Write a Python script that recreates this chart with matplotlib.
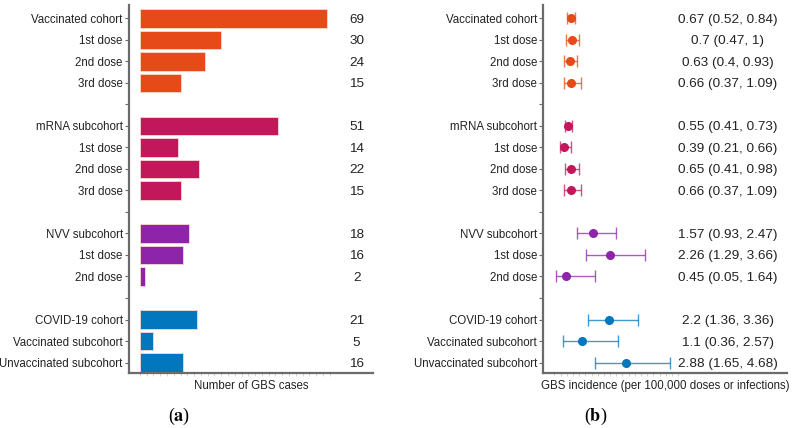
import matplotlib
matplotlib.use("Agg")
import matplotlib.pyplot as plt
from matplotlib.colors import to_rgba
import numpy as np

plt.rcParams['font.family'] = ['Liberation Sans', 'DejaVu Sans']
plt.rcParams['mathtext.fontset'] = 'stix'

# ---- data ----
group_names = ["Vaccinated", "mRNA", "NVV", "COVID"]
group_labels = [
    ["Vaccinated cohort", "1st dose", "2nd dose", "3rd dose"],
    ["mRNA subcohort", "1st dose", "2nd dose", "3rd dose"],
    ["NVV subcohort", "1st dose", "2nd dose"],
    ["COVID-19 cohort", "Vaccinated subcohort", "Unvaccinated subcohort"],
]
cases = [
    [69, 30, 24, 15],
    [51, 14, 22, 15],
    [18, 16, 2],
    [21, 5, 16],
]
incidence = [
    [0.67, 0.7, 0.63, 0.66],
    [0.55, 0.39, 0.65, 0.66],
    [1.57, 2.26, 0.45],
    [2.2, 1.1, 2.88],
]
ci_low = [
    [0.52, 0.47, 0.4, 0.37],
    [0.41, 0.21, 0.41, 0.37],
    [0.93, 1.29, 0.05],
    [1.36, 0.36, 1.65],
]
ci_high = [
    [0.84, 1, 0.93, 1.09],
    [0.73, 0.66, 0.98, 1.09],
    [2.47, 3.66, 1.64],
    [3.36, 2.57, 4.68],
]
ci_text = [
    ["0.67 (0.52, 0.84)", "0.7 (0.47, 1)", "0.63 (0.4, 0.93)", "0.66 (0.37, 1.09)"],
    ["0.55 (0.41, 0.73)", "0.39 (0.21, 0.66)", "0.65 (0.41, 0.98)", "0.66 (0.37, 1.09)"],
    ["1.57 (0.93, 2.47)", "2.26 (1.29, 3.66)", "0.45 (0.05, 1.64)"],
    ["2.2 (1.36, 3.36)", "1.1 (0.36, 2.57)", "2.88 (1.65, 4.68)"],
]
colors = ["#E64A19", "#C2185B", "#8E24AA", "#0277BD"]

# ---- positions ----
positions = []
tick_pos = []
tick_lab = []
p = 0
for gi, labs in enumerate(group_labels):
    pos = []
    for lab in labs:
        pos.append(p)
        tick_pos.append(p)
        tick_lab.append(lab)
        p += 1
    positions.append(pos)
    if gi < len(group_labels) - 1:
        tick_pos.append(p)
        tick_lab.append("")
        p += 1
nslots = p

W, H = 795, 428
fig = plt.figure(figsize=(W / 100, H / 100), dpi=100)

def px_axes(x0, y0, x1, y1):
    return fig.add_axes([x0 / W, 1 - y1 / H, (x1 - x0) / W, (y1 - y0) / H])

spine_col = "#6b6b6b"
text_col = "#222222"

def style(ax):
    for s in ["top", "right"]:
        ax.spines[s].set_visible(False)
    for s in ["left", "bottom"]:
        ax.spines[s].set_color(spine_col)
        ax.spines[s].set_linewidth(1.6)
    ax.set_yticks(tick_pos)
    ax.set_yticklabels(tick_lab, fontsize=8.3, color=text_col)
    ax.tick_params(axis="y", length=3, width=0.8, color=spine_col, pad=1.5)
    ax.set_ylim(nslots - 0.5, -0.62)

# ---- panel (a) ----
axa = px_axes(129, 5, 373, 373.3)
style(axa)
for gi in range(len(group_labels)):
    axa.barh(positions[gi], cases[gi], height=0.86, left=0, color=colors[gi],
             edgecolor="#f7d9cf", linewidth=0.6)
    for y, v in zip(positions[gi], cases[gi]):
        axa.text(80, y, str(v), ha="center", va="center_baseline",
                 fontsize=9.7, color=text_col)
axa.set_xlim(-4, 86)
axa.set_xticks(np.arange(0, 71, 2.5))
axa.set_xticklabels([])
axa.tick_params(axis="x", length=2.5, width=0.5, color="#c4c4c4")
axa.set_xlabel("Number of GBS cases", fontsize=8.3, color=text_col, labelpad=-1.5)

# ---- panel (b) ----
axb = px_axes(543.3, 5, 786.7, 373.3)
style(axb)
for gi in range(len(group_labels)):
    inc = np.array(incidence[gi])
    lo = inc - np.array(ci_low[gi])
    hi = np.array(ci_high[gi]) - inc
    axb.errorbar(inc, positions[gi], xerr=[lo, hi], fmt="o", color=colors[gi],
                 ecolor=to_rgba(colors[gi], 0.75), elinewidth=1.0, capsize=4,
                 capthick=1.0, markersize=5.5)
    for y, t in zip(positions[gi], ci_text[gi]):
        axb.text(7, y, t, ha="center", va="center_baseline", fontsize=9.7,
                 color=text_col)
axb.set_xlim(-0.45, 9.39)
axb.set_xticks(np.arange(0, 5.01, 0.25))
axb.set_xticklabels([])
axb.tick_params(axis="x", length=2.5, width=0.5, color="#c4c4c4")
axb.set_xlabel("GBS incidence (per 100,000 doses or infections)", fontsize=8.3,
               color=text_col, labelpad=-1.5)

fig.text(179 / W, 1 - 416.5 / H, r"($\mathbf{a}$)", ha="center", va="center",
         fontsize=13, family="Liberation Serif", color="black")
fig.text(595.8 / W, 1 - 416.5 / H, r"($\mathbf{b}$)", ha="center", va="center",
         fontsize=13, family="Liberation Serif", color="black")

fig.savefig("out.png", dpi=100)
